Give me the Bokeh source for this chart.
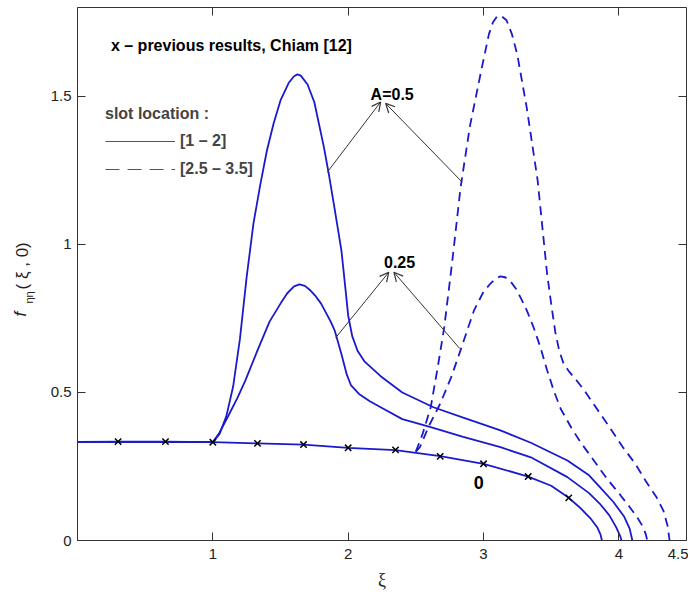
import math
from bokeh.plotting import figure
from bokeh.layouts import row
from bokeh.core.properties import value
from bokeh.models import (Range1d, LinearAxis, FixedTicker, CustomJSTickFormatter,
                          Label, Arrow, OpenHead, Legend, LegendItem)
from bokeh.embed import file_html
from bokeh.resources import INLINE

# ---------------- data ----------------
x_ticks = [1, 2, 3, 4, 4.5]
y_ticks = [0, 0.5, 1, 1.5]

# A = 0 (no slot)
xi_a0 = [0, 0.3, 0.65, 1.0, 1.33, 1.67, 2.0, 2.35, 2.68, 3.0, 3.33, 3.5, 3.63, 3.72, 3.79, 3.84, 3.865, 3.875]
f_a0 = [0.333, 0.334, 0.334, 0.332, 0.328, 0.324, 0.313, 0.305, 0.285, 0.259, 0.216, 0.185, 0.144, 0.108, 0.075, 0.045, 0.02, 0.0]

# previous results (Chiam [12])
xi_prev = [0.3, 0.65, 1.0, 1.33, 1.67, 2.0, 2.35, 2.68, 3.0, 3.33, 3.63]
f_prev = [0.334, 0.334, 0.332, 0.328, 0.324, 0.313, 0.306, 0.284, 0.259, 0.216, 0.144]

# slot [1 - 2], A = 0.25
xi_s1_a25 = [0, 0.5, 1.0, 1.05, 1.11, 1.18, 1.24, 1.33, 1.42, 1.5, 1.55, 1.6, 1.64, 1.68, 1.72, 1.76, 1.8, 1.87, 1.9,
             1.95, 1.99, 2.02, 2.08, 2.16, 2.24, 2.4, 2.61, 2.85, 3.125, 3.35, 3.62, 3.78, 3.86, 3.93, 3.98, 4.01, 4.02]
f_s1_a25 = [0.333, 0.333, 0.332, 0.365, 0.417, 0.48, 0.54, 0.642, 0.74, 0.80, 0.835, 0.858, 0.865, 0.86, 0.845, 0.825, 0.80, 0.74, 0.71,
            0.63, 0.56, 0.525, 0.495, 0.47, 0.45, 0.41, 0.383, 0.35, 0.315, 0.281, 0.214, 0.16, 0.124, 0.085, 0.045, 0.015, 0.0]

# slot [1 - 2], A = 0.5
xi_s1_a5 = [0, 0.5, 1.0, 1.05, 1.1, 1.15, 1.2, 1.25, 1.3, 1.35, 1.4, 1.45, 1.5, 1.56, 1.6, 1.625, 1.65, 1.7, 1.75, 1.82,
            1.86, 1.9, 1.95, 1.98, 2.0, 2.03, 2.07, 2.12, 2.24, 2.4, 2.63, 2.85, 3.125, 3.35, 3.62, 3.78, 3.86, 3.96, 4.04, 4.08, 4.1]
f_s1_a5 = [0.333, 0.333, 0.332, 0.36, 0.42, 0.52, 0.68, 0.89, 1.07, 1.2, 1.318, 1.41, 1.486, 1.545, 1.568, 1.574, 1.57, 1.54, 1.48, 1.33,
           1.23, 1.12, 0.98, 0.85, 0.76, 0.69, 0.64, 0.605, 0.555, 0.50, 0.45, 0.415, 0.372, 0.33, 0.27, 0.22, 0.18, 0.13, 0.08, 0.04, 0.0]

# slot [2.5 - 3.5], A = 0.25
xi_s2_a25 = [2.5, 2.53, 2.6, 2.68, 2.76, 2.83, 2.88, 2.93, 3.0, 3.05, 3.09, 3.125, 3.16, 3.2, 3.24, 3.28, 3.32, 3.37, 3.42,
             3.47, 3.52, 3.57, 3.65, 3.72, 3.8, 3.91, 4.0, 4.08, 4.14, 4.18, 4.2, 4.21]
f_s2_a25 = [0.30, 0.315, 0.39, 0.462, 0.55, 0.642, 0.71, 0.777, 0.84, 0.867, 0.885, 0.892, 0.889, 0.875, 0.85, 0.815, 0.777, 0.72, 0.653,
            0.575, 0.505, 0.445, 0.38, 0.33, 0.28, 0.21, 0.16, 0.113, 0.075, 0.045, 0.02, 0.0]

# slot [2.5 - 3.5], A = 0.5
xi_s2_a5 = [2.5, 2.55, 2.61, 2.66, 2.71, 2.77, 2.83, 2.9, 2.98, 3.04, 3.07, 3.1, 3.13, 3.17, 3.21, 3.25, 3.32, 3.4, 3.47,
            3.5, 3.53, 3.56, 3.59, 3.63, 3.68, 3.74, 3.8, 3.86, 3.95, 4.03, 4.12, 4.2, 4.28, 4.33, 4.36, 4.375]
f_s2_a5 = [0.30, 0.36, 0.45, 0.58, 0.72, 0.946, 1.19, 1.40, 1.58, 1.71, 1.75, 1.77, 1.772, 1.757, 1.71, 1.64, 1.46, 1.216, 0.90,
           0.80, 0.705, 0.64, 0.60, 0.572, 0.545, 0.51, 0.47, 0.43, 0.37, 0.315, 0.26, 0.2, 0.145, 0.10, 0.05, 0.0]

# annotation arrows (tail -> head), data units
arrow_a5 = [(1.846, 1.244, 2.24, 1.481), (2.843, 1.210, 2.277, 1.476)]
arrow_a25 = [(1.908, 0.685, 2.30, 0.906), (2.825, 0.648, 2.338, 0.906)]

# ---------------- figure ----------------
BLUE = "#1a1acc"
AX = "#333333"
FONT = "Liberation Sans"
H = 595
LABEL_W = 45

p = figure(width=643, height=H, x_range=Range1d(0, 4.5), y_range=Range1d(0, 1.8),
           output_backend="svg", toolbar_location=None,
           min_border_left=77 - LABEL_W, min_border_right=2, min_border_top=7, min_border_bottom=55)
p.xgrid.visible = False
p.ygrid.visible = False
p.outline_line_color = AX
p.outline_line_width = 1

fmt = CustomJSTickFormatter(code="return String(tick)")
for ax, ticks in ((p.xaxis[0], x_ticks), (p.yaxis[0], y_ticks)):
    ax.ticker = FixedTicker(ticks=ticks)
    ax.formatter = fmt
    ax.major_tick_in = 8
    ax.major_tick_out = 0
    ax.minor_tick_line_color = None
    ax.axis_line_color = AX
    ax.major_tick_line_color = AX
    ax.major_label_text_font = FONT
    ax.major_label_text_font_size = "15px"
    ax.major_label_text_color = "#222222"
p.xaxis.major_label_standoff = 8
p.yaxis.major_label_standoff = 6
p.xaxis.axis_label = "ξ"
p.xaxis.axis_label_text_font = "Liberation Serif"
p.xaxis.axis_label_text_font_size = "18px"
p.xaxis.axis_label_text_font_style = "normal"
p.xaxis.axis_label_text_color = "#222222"
p.xaxis.axis_label_standoff = 8

blank = CustomJSTickFormatter(code="return ''")
for loc, ticks in (("above", [1, 2, 3, 4]), ("right", [0.5, 1, 1.5])):
    ax = LinearAxis(ticker=FixedTicker(ticks=ticks), formatter=blank, major_label_text_font_size="1px",
                    major_tick_in=8, major_tick_out=0, minor_tick_line_color=None,
                    axis_line_color=None, major_tick_line_color=AX, major_label_standoff=0)
    p.add_layout(ax, loc)

# curves
p.line(xi_a0, f_a0, line_color=BLUE, line_width=1.8)
p.line(xi_s1_a25, f_s1_a25, line_color=BLUE, line_width=1.8)
p.line(xi_s1_a5, f_s1_a5, line_color=BLUE, line_width=1.8)
p.line(xi_s2_a25, f_s2_a25, line_color=BLUE, line_width=1.8, line_dash="9 6")
p.line(xi_s2_a5, f_s2_a5, line_color=BLUE, line_width=1.8, line_dash="9 6")
p.scatter(xi_prev, f_prev, marker="x", size=9, line_color="black", line_width=1.5)

# arrows
for (x0, y0, x1, y1) in arrow_a5 + arrow_a25:
    p.add_layout(Arrow(x_start=x0, y_start=y0, x_end=x1, y_end=y1, line_color=AX, line_width=1,
                       end=OpenHead(size=9, line_color=AX, line_width=1.2)))

# texts inside the frame
def lab(x, y, t, size="16px", style="bold", align="center"):
    p.add_layout(Label(x=x, y=y, text=t, text_font=FONT, text_font_size=size, text_font_style=style,
                       text_align=align, text_baseline="middle", text_color="black"))

lab(0.247, 1.672, "x – previous results, Chiam [12]", align="left")
lab(2.325, 1.507, "A=0.5")
lab(2.38, 0.94, "0.25")
lab(2.965, 0.197, "0", size="18px")

# hand-made legend
r_solid = p.line(x=[math.nan], y=[math.nan], line_color="#555555", line_width=1)
r_dash = p.line(x=[math.nan], y=[math.nan], line_color="#555555", line_width=1, line_dash="14 8")
legend = Legend(items=[LegendItem(label="[1 – 2]", renderers=[r_solid]),
                       LegendItem(label="[2.5 – 3.5]", renderers=[r_dash])],
                title="slot location :", location=(28, 362),
                title_text_font=FONT, title_text_font_style="bold", title_text_font_size="16px",
                label_text_font=FONT, label_text_font_style="bold", label_text_font_size="16px",
                glyph_width=70, glyph_height=18, label_standoff=5, spacing=10, padding=0, margin=0,
                title_standoff=9, background_fill_alpha=0, border_line_color=None)
p.add_layout(legend)

# y-axis title: f_ηη( ξ , 0), drawn in a narrow strip left of the plot
# (the strip's frame is aligned with the main frame: page rows 7..540)
q = figure(width=LABEL_W, height=H, x_range=Range1d(0, LABEL_W), y_range=Range1d(540, 7),
           output_backend="svg", toolbar_location=None, min_border=0,
           x_axis_location=None, y_axis_location=None)
q.xgrid.visible = False
q.ygrid.visible = False
q.outline_line_color = None
q.text(x=[20], y=[316], text=["f"], angle=math.pi / 2, text_font=value(FONT),
       text_font_style="italic", text_font_size=value("17px"), text_baseline="middle", text_color="#222222")
q.text(x=[28], y=[303], text=["ηη"], angle=math.pi / 2, text_font=value(FONT),
       text_font_style="normal", text_font_size=value("11px"), text_baseline="middle", text_color="#222222")
q.text(x=[22], y=[289], text=["( ξ , 0)"], angle=math.pi / 2, text_font=value(FONT),
       text_font_style="normal", text_font_size=value("17px"), text_baseline="middle", text_color="#222222")

layout = row(q, p, spacing=0)
open("out.html", "w").write(file_html(layout, INLINE))
